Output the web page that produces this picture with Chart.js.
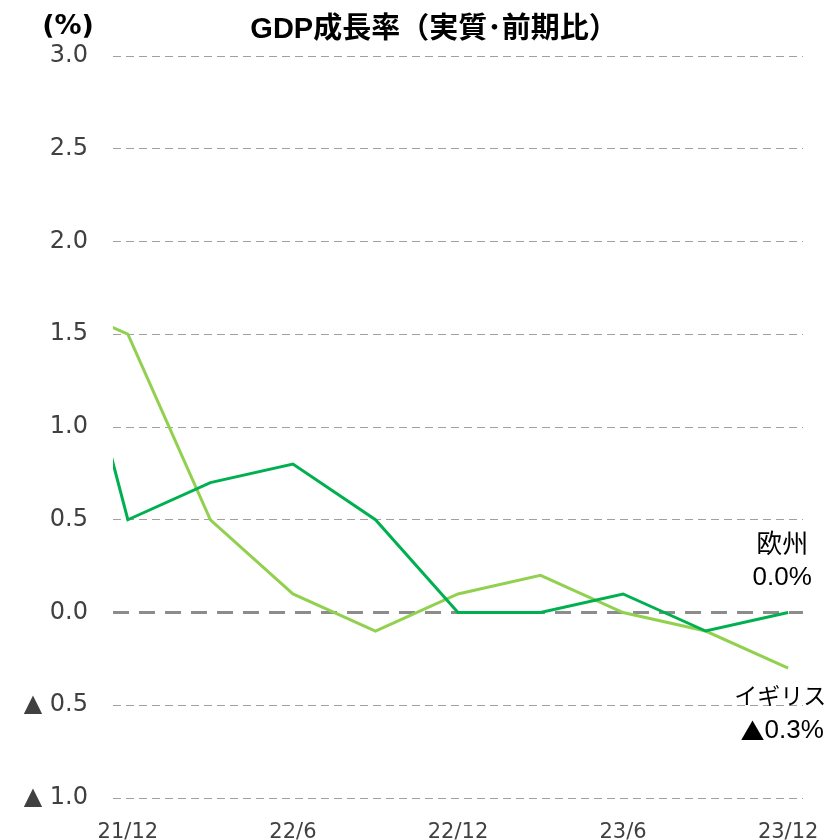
<!DOCTYPE html>
<html>
<head>
<meta charset="utf-8">
<script src="https://cdn.jsdelivr.net/npm/chart.js@4.4.1/dist/chart.umd.min.js"></script>
<style>
    body { margin: 0; background: #fff; }
    canvas { display: block; }
</style>
</head>
<body>
<canvas id="gdpChart" width="833" height="840"></canvas>
<script>
// quarters (first one sits just left of the axis and is clipped)
var quarters = ["21/9", "21/12", "22/3", "22/6", "22/9", "22/12", "23/3", "23/6", "23/9", "23/12"];
var euroValues = [2.2, 0.5, 0.7, 0.8, 0.5, 0.0, 0.0, 0.1, -0.1, 0.0];
var ukValues = [1.7, 1.5, 0.5, 0.1, -0.1, 0.1, 0.2, 0.0, -0.1, -0.3];
var xTickLabels = ["21/12", "22/6", "22/12", "23/6", "23/12"];
var yTicks = [3.0, 2.5, 2.0, 1.5, 1.0, 0.5, 0.0, -0.5, -1.0];

var euroLabel = ["欧州", "0.0%"];
var ukLabel = ["イギリス", "▲0.3%"];

function toPoints(values) {
    return values.map(function (v, i) { return { x: i - 1, y: v }; });
}

// text centred at x, with a leading ▲ drawn in the CJK font
function drawLabel(ctx, text, x, y, size) {
    var latin = (size || 26) + "px 'Liberation Sans', 'Noto Sans CJK JP'";
    var mark = "24px 'Noto Sans CJK JP'";
    if (text.charAt(0) !== '▲') {
        ctx.font = latin;
        ctx.textAlign = 'center';
        ctx.fillText(text, x, y);
        return;
    }
    var rest = text.slice(1);
    ctx.font = mark;
    var w1 = ctx.measureText('▲').width;
    ctx.font = latin;
    var w2 = ctx.measureText(rest).width;
    var left = x - (w1 + w2) / 2;
    ctx.textAlign = 'left';
    ctx.font = mark;
    ctx.fillText('▲', left, y);
    ctx.font = latin;
    ctx.fillText(rest, left + w1, y);
}

// extra texts: unit, title, end labels
var textPlugin = {
    id: 'texts',
    afterDraw: function (chart) {
        var ctx = chart.ctx;
        var xs = chart.scales.x, ys = chart.scales.y;
        ctx.save();
        ctx.fillStyle = '#000';
        ctx.textBaseline = 'middle';
        ctx.textAlign = 'center';

        ctx.font = "bold 27px 'DejaVu Sans'";
        ctx.fillText('(%)', 68, 27);

        ctx.font = "bold 29px 'Liberation Sans', 'Noto Sans CJK JP'";
        ctx.fillText('GDP成長率（実質･前期比）', 434, 30);

        var last = quarters.length - 2;
        var px = xs.getPixelForValue(last) - 6;
        var eY = ys.getPixelForValue(euroValues[euroValues.length - 1]);
        var uY = ys.getPixelForValue(ukValues[ukValues.length - 1]);
        drawLabel(ctx, euroLabel[0], px, eY - 67);
        drawLabel(ctx, euroLabel[1], px, eY - 35);
        drawLabel(ctx, ukLabel[0], px - 2, uY + 30, 23);
        drawLabel(ctx, ukLabel[1], px, uY + 63);
        ctx.restore();
    }
};

var ctx = document.getElementById('gdpChart').getContext('2d');
var chart = new Chart(ctx, {
    type: 'line',
    data: {
        datasets: [{
            label: '欧州',
            data: toPoints(euroValues),
            borderColor: '#00B050',
            borderWidth: 3,
            pointRadius: 0,
            tension: 0
        }, {
            label: 'イギリス',
            data: toPoints(ukValues),
            borderColor: '#92D050',
            borderWidth: 3,
            pointRadius: 0,
            tension: 0
        }]
    },
    options: {
        responsive: false,
        animation: false,
        layout: { padding: { top: 56, right: 28, left: 0, bottom: 0 } },
        plugins: {
            legend: { display: false },
            tooltip: { enabled: false }
        },
        scales: {
            x: {
                type: 'linear',
                min: -0.18,
                max: 8.18,
                grid: { display: false },
                border: { display: false },
                afterBuildTicks: function (axis) {
                    axis.ticks = xTickLabels.map(function (l) {
                        return { value: quarters.indexOf(l) - 1 };
                    });
                },
                afterFit: function (axis) { axis.height = 42; },
                ticks: {
                    autoSkip: false,
                    maxRotation: 0,
                    padding: 14,
                    color: '#404040',
                    font: { family: 'DejaVu Sans', size: 21 },
                    callback: function (v) { return quarters[v + 1]; }
                }
            },
            y: {
                min: -1.0,
                max: 3.0,
                afterBuildTicks: function (axis) {
                    axis.ticks = yTicks.map(function (v) { return { value: v }; });
                },
                afterFit: function (axis) { axis.width = 113; },
                grid: {
                    drawTicks: false,
                    color: function (c) { return c.tick && c.tick.value === 0 ? '#8c8c8c' : '#a0a0a0'; },
                    lineWidth: function (c) { return c.tick && c.tick.value === 0 ? 3 : 1; }
                },
                border: {
                    display: false,
                    dash: function (c) { return c.tick && c.tick.value === 0 ? [16, 10] : [8, 5]; }
                },
                ticks: {
                    padding: 25,
                    color: '#404040',
                    font: { family: 'DejaVu Sans', size: 24 },
                    callback: function (v) {
                        return v < 0 ? '▲ ' + Math.abs(v).toFixed(1) : v.toFixed(1);
                    }
                }
            }
        }
    },
    plugins: [textPlugin]
});
</script>
</body>
</html>
